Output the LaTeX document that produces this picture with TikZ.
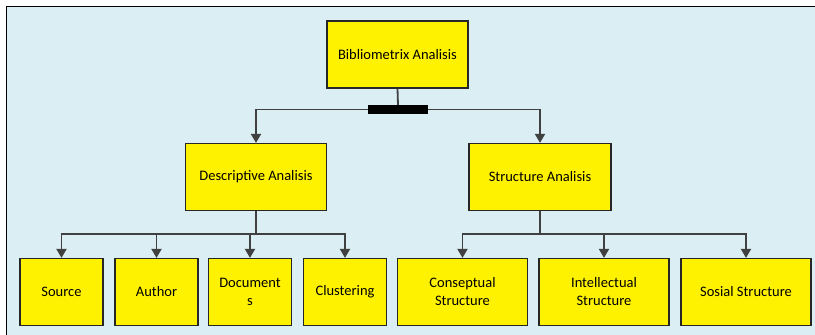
\documentclass[tikz,border=0pt]{standalone}
\usepackage{fontspec}
\setmainfont{Carlito}
\usetikzlibrary{arrows.meta,positioning}

\definecolor{bgblue}{HTML}{DBEEF4}
\definecolor{linegray}{HTML}{404040}

\tikzset{
  box/.style={draw=black!85, fill=yellow, line width=1.2pt, minimum height=67pt,
    align=center, inner sep=2pt, font=\fontsize{14.5}{18}\selectfont},
  smallbox/.style={box, minimum width=83pt},
  widebox/.style={box, minimum width=130pt},
  link/.style={draw=linegray, line width=1.8pt}
}

\begin{document}
\begin{tikzpicture}[x=1pt,y=-1pt,>={Triangle[width=10pt,length=9pt]}]
\useasboundingbox (0,0) rectangle (815,335);
\fill[bgblue] (6,6) rectangle (815,335);
\draw[line width=1pt] (6,335) -- (6,6) -- (815,6);

% top level
\node [box, minimum width=141pt] (root) at (397.5,54.5) {Bibliometrix Analisis};
\node [fill=black, minimum width=60pt, minimum height=9pt, inner sep=0pt] (bar) at (398,109.5) {};

% second level
\node [box, minimum width=141pt] (desc) at (256,177) {Descriptive Analisis};
\node [box, minimum width=142pt] (struc) at (540,177) {Structure Analisis};

% third level
\node [smallbox] (source) at (61.5,292) {Source};
\node [smallbox] (author) at (156.5,292) {Author};
\node [smallbox] (docs) at (250,292) {Document\\s};
\node [smallbox] (clust) at (345,292) {Clustering};
\node [widebox] (concept) at (462.5,292) {Conseptual\\Structure};
\node [widebox] (intel) at (604,292) {Intellectual\\Structure};
\node [widebox] (social) at (746,292) {Sosial Structure};

\coordinate (dbus) at (256,234);
\coordinate (sbus) at (540,234);

\draw[link] (root.south) -- (bar.north);
\draw[link,->] (bar.west) -| (desc.north);
\draw[link,->] (bar.east) -| (struc.north);

\draw[link] (desc.south) -- (dbus);
\foreach \n in {source,author,docs,clust}
  \draw[link,->] (dbus) -| (\n.north);

\draw[link] (struc.south) -- (sbus);
\foreach \n in {concept,intel,social}
  \draw[link,->] (sbus) -| (\n.north);
\end{tikzpicture}
\end{document}
